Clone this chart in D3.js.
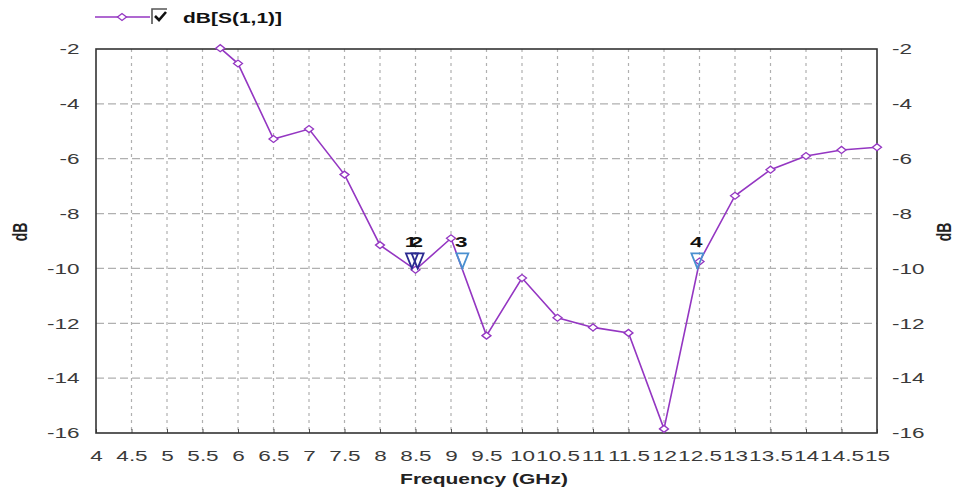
<!DOCTYPE html>
<html>
<head>
<meta charset="utf-8">
<script src="https://cdn.jsdelivr.net/npm/d3@7"></script>
<style>
  html, body { margin: 0; padding: 0; background: #fff; }
  svg { display: block; font-family: "Liberation Sans", Arial, sans-serif; }
</style>
</head>
<body>
<svg id="chart" width="963" height="491"></svg>
<script>
// ---- data ----
const freq = [5.75, 6, 6.5, 7, 7.5, 8, 8.5, 9, 9.5, 10, 10.5, 11, 11.5, 12, 12.5, 13, 13.5, 14, 14.5, 15];
const s11  = [-1.97, -2.53, -5.28, -4.92, -6.58, -9.15, -10.05, -8.9, -12.45, -10.35, -11.8, -12.15, -12.35, -15.85, -9.75, -7.35, -6.4, -5.9, -5.68, -5.58];
const markerFreq  = [8.45, 8.53, 9.16, 12.47];
const markerDb    = [-10, -10, -10, -10];
const markerLabel = ["1", "2", "3", "4"];
const xTicks = d3.range(4, 15.001, 0.5);
const yTicks = [-16, -14, -12, -10, -8, -6, -4, -2];
const seriesName = "dB[S(1,1)]";
const xTitle = "Frequency (GHz)";
const yTitle = "dB";

// ---- layout ----
const svg = d3.select("#chart");
const L = 96, R = 877, T = 49, B = 433;
const SX = 1.5; // horizontal stretch of the text
const purple = "#9436c2";

const x = d3.scaleLinear().domain([4, 15]).range([L, R]);
const y = d3.scaleLinear().domain([-16, -2]).range([B, T]);

// grid
const grid = svg.append("g");
grid.selectAll("line.v").data(xTicks.slice(1, -1)).join("line")
  .attr("x1", d => x(d)).attr("x2", d => x(d)).attr("y1", T).attr("y2", B)
  .attr("stroke", "#b0b0b0").attr("stroke-width", 1.2).attr("stroke-dasharray", "3,4");
grid.selectAll("line.h").data(yTicks.slice(1, -1)).join("line")
  .attr("x1", L).attr("x2", R).attr("y1", d => y(d)).attr("y2", d => y(d))
  .attr("stroke", "#b0b0b0").attr("stroke-width", 1.2).attr("stroke-dasharray", "8,4");

// axes
function stretchText(sel) {
  sel.selectAll("text").attr("transform", `scale(${SX},1)`);
}
const fmt = d => String(d);
const xAxis = svg.append("g").attr("transform", `translate(0,${B})`)
  .call(d3.axisBottom(x).tickValues(xTicks).tickFormat(fmt).tickSizeInner(-4).tickSizeOuter(0).tickPadding(17));
const yAxisL = svg.append("g").attr("transform", `translate(${L},0)`)
  .call(d3.axisLeft(y).tickValues(yTicks).tickFormat(fmt).tickSizeInner(0).tickSizeOuter(0).tickPadding(11));
const yAxisR = svg.append("g").attr("transform", `translate(${R},0)`)
  .call(d3.axisRight(y).tickValues(yTicks).tickFormat(fmt).tickSizeInner(0).tickSizeOuter(0).tickPadding(10));
[xAxis, yAxisL, yAxisR].forEach(a => {
  a.select(".domain").remove();
  a.selectAll("text").attr("font-size", 15).attr("fill", "#3a3a3a").attr("font-family", "Liberation Sans, Arial, sans-serif");
  a.selectAll("line").attr("stroke", "#555");
  stretchText(a);
});

// plot frame
svg.append("rect").attr("x", L).attr("y", T).attr("width", R - L).attr("height", B - T)
  .attr("fill", "none").attr("stroke", "#333").attr("stroke-width", 1.6);

// titles
function stretchedLabel(txt, px, py, opts) {
  const g = svg.append("g").attr("transform", `translate(${px},${py}) scale(${SX},1)` + (opts.rotate ? " rotate(-90)" : ""));
  g.append("text").text(txt).attr("text-anchor", opts.anchor || "middle")
    .attr("font-size", opts.size || 14).attr("font-weight", opts.weight || "bold").attr("fill", opts.fill || "#222");
  return g;
}
stretchedLabel(xTitle, 484, 484, {size: 14});
stretchedLabel(yTitle, 27, 232, {size: 14, rotate: true});
stretchedLabel(yTitle, 951, 232, {size: 14, rotate: true});

// series line
const line = d3.line().x((d, i) => x(freq[i])).y(d => y(d));
svg.append("path").datum(s11).attr("d", line)
  .attr("fill", "none").attr("stroke", purple).attr("stroke-width", 1.6);

const diamond = (cx, cy) => `M${cx - 4.5},${cy}L${cx},${cy - 3.5}L${cx + 4.5},${cy}L${cx},${cy + 3.5}Z`;
svg.append("g").selectAll("path").data(s11).join("path")
  .attr("d", (d, i) => diamond(x(freq[i]), y(d)))
  .attr("fill", "#fff").attr("stroke", purple).attr("stroke-width", 1.3);

// markers
const mk = svg.append("g");
markerFreq.forEach((f, i) => {
  const tx = x(f), ty = y(markerDb[i]);
  const col = i < 2 ? "#2a2a90" : "#4a90d0";
  mk.append("path")
    .attr("d", `M${tx},${ty}L${tx - 6},${ty - 15}L${tx + 6},${ty - 15}Z`)
    .attr("fill", "none").attr("stroke", col).attr("stroke-width", 1.8);
  const g = mk.append("g").attr("transform", `translate(${tx - 1},${ty - 21}) scale(${SX},1)`);
  g.append("text").text(markerLabel[i]).attr("text-anchor", "middle")
    .attr("font-size", 15).attr("font-weight", "bold").attr("fill", "#111");
});

// legend
const lg = svg.append("g");
lg.append("line").attr("x1", 95).attr("x2", 150).attr("y1", 17).attr("y2", 17)
  .attr("stroke", purple).attr("stroke-width", 1.6);
lg.append("path").attr("d", diamond(122, 17)).attr("fill", "#fff").attr("stroke", purple).attr("stroke-width", 1.3);
lg.append("rect").attr("x", 152).attr("y", 9).attr("width", 15).attr("height", 15).attr("fill", "#fff");
lg.append("path").attr("d", "M152,24L152,9L167,9").attr("fill", "none").attr("stroke", "#555").attr("stroke-width", 1.6);
lg.append("path").attr("d", "M155,16L159,20L166,12").attr("fill", "none").attr("stroke", "#111").attr("stroke-width", 2.6);
stretchedLabel(seriesName, 183, 23, {size: 14, anchor: "start", fill: "#111"});
</script>
</body>
</html>
